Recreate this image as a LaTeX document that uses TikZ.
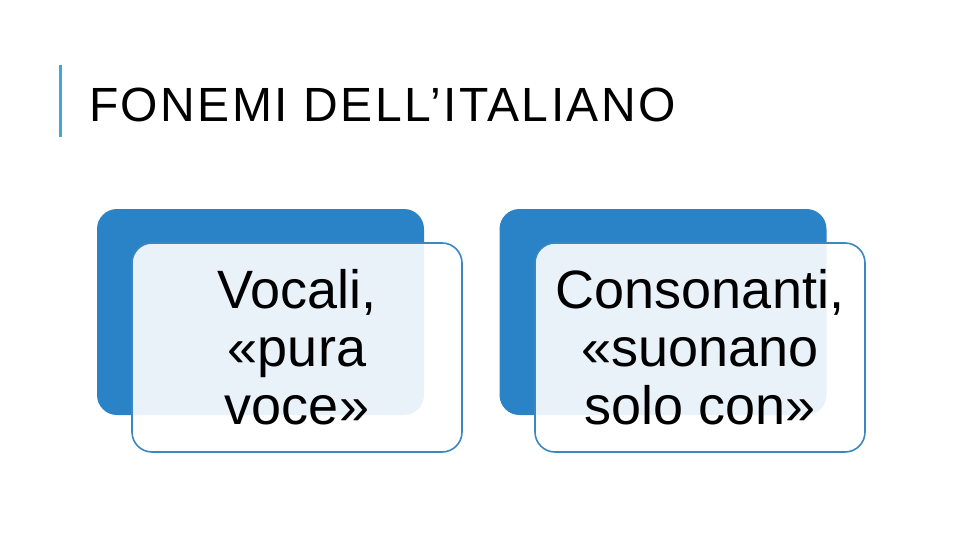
\documentclass[tikz,border=0pt]{standalone}
\usepackage{fontspec}
\setmainfont{Liberation Sans}
\definecolor{barblue}{HTML}{42A5D2}
\definecolor{cardblue}{HTML}{2A83C6}
\definecolor{edgeblue}{HTML}{3B87C0}
\begin{document}
\begin{tikzpicture}[x=1pt,y=-1pt,
  backcard/.style={rectangle, rounded corners=20pt, fill=cardblue, draw=none, minimum width=327pt, minimum height=206pt, inner sep=0pt},
  frontcard/.style={rectangle, rounded corners=20pt, fill=white, fill opacity=0.9, text opacity=1, draw=edgeblue, line width=1.6pt, minimum width=330pt, minimum height=209pt, inner sep=0pt, align=center, font=\fontsize{54}{58}\selectfont},
  titletext/.style={anchor=base west, inner sep=0pt, font=\fontsize{48}{48}\selectfont\addfontfeature{LetterSpace=5}}]
\useasboundingbox (0,0) rectangle (960,540);
\fill[white] (0,0) rectangle (960,540);
\draw[barblue, line width=3pt] (60,65) coordinate (bartop) -- (60,137) coordinate (barbot);
\node[titletext] (title) at (89,122) {FONEMI DELL’ITALIANO};
\node[backcard] (b1) at (260.5,312) {};
\node[frontcard] (f1) at (297,347.5) {Vocali,\\«pura\\voce»};
\node[backcard] (b2) at (663,312) {};
\node[frontcard] (f2) at (700,347.5) {Consonanti,\\«suonano\\solo con»};
\end{tikzpicture}
\end{document}
